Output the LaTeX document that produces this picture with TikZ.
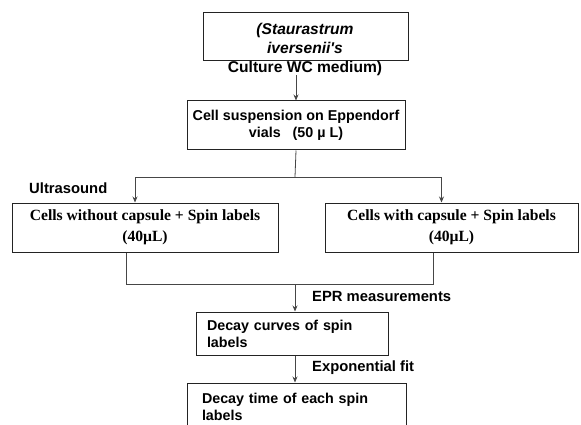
\documentclass[tikz,border=0pt]{standalone}
\usepackage{fontspec}
\setmainfont{Liberation Serif}
\setsansfont{Liberation Sans}
\usetikzlibrary{arrows.meta}
\definecolor{fcLine}{RGB}{35,35,35}
\definecolor{fcLink}{RGB}{70,70,70}

\begin{document}
\begin{tikzpicture}[x=1pt, y=-1pt,
  box/.style={
    draw=fcLine, line width=1pt, inner sep=0pt, align=center
  },
  stxt/.style={font=\fontsize{14.3}{17}\selectfont\sffamily\bfseries},
  rtxt/.style={font=\fontsize{15.6}{21}\selectfont\rmfamily\bfseries},
  lbl/.style={font=\fontsize{14.8}{16}\selectfont\sffamily\bfseries, inner sep=0pt, anchor=west},
  arr/.style={-{Stealth[length=6pt, width=5pt]}, line width=0.8pt, color=fcLink},
  lnk/.style={line width=0.8pt, color=fcLink},
]
\clip (0,0) rectangle (581,425);

%% Culture
\node[box, minimum width=205, minimum height=48] (culture) at (305.5,37) {};
\node[font=\fontsize{15.6}{19}\selectfont\sffamily\bfseries, align=center, inner sep=0pt] (culturetxt) at (305,49)
  {\textit{(Staurastrum}\\\textit{iversenii\textquotesingle s}\\Culture WC medium)};

%% Suspension
\node[box, stxt, minimum width=218, minimum height=49] (suspension) at (296,125.5)
  {Cell suspension on Eppendorf\\vials\ \ \ (50 µ L)};

%% Two samples
\node[box, rtxt, minimum width=266, minimum height=49] (nocap) at (145,227.5)
  {Cells without capsule + Spin labels\\(40µL)};
\node[box, rtxt, minimum width=253, minimum height=49] (withcap) at (451.5,227.5)
  {Cells with capsule + Spin labels\\(40µL)};

%% Decay
\node[box, stxt, align=left, inner xsep=11pt, text width=170, minimum height=43] (curves) at (292,333.5)
  {Decay curves of spin\\labels};
\node[box, stxt, align=left, inner xsep=15pt, text width=189, minimum height=48] (decaytime) at (296.5,407)
  {Decay time of each spin\\labels};

%% Labels
\node[lbl] (ultra)  at (29,188) {Ultrasound};
\node[lbl] (epr)    at (312,296) {EPR measurements};
\node[lbl] (expfit) at (312,368) {Exponential fit};

%% ── Arrows ──
\coordinate (split) at (295,177);
\coordinate (merge) at (295,284);

\draw[arr] (culturetxt.south -| suspension.north) -- (suspension.north);
\draw[lnk] (suspension.south) -- (split);
\draw[arr] (split) -| ([xshift=-10pt]nocap.north);
\draw[arr] (split) -| ([xshift=-10pt]withcap.north);

\draw[lnk] ([xshift=-19pt]nocap.south) |- (merge);
\draw[lnk] ([xshift=-18pt]withcap.south) |- (merge);
\draw[arr] (merge) -- (merge |- curves.north);

\draw[arr] (curves.south -| merge) -- (merge |- decaytime.north);

\end{tikzpicture}
\end{document}
